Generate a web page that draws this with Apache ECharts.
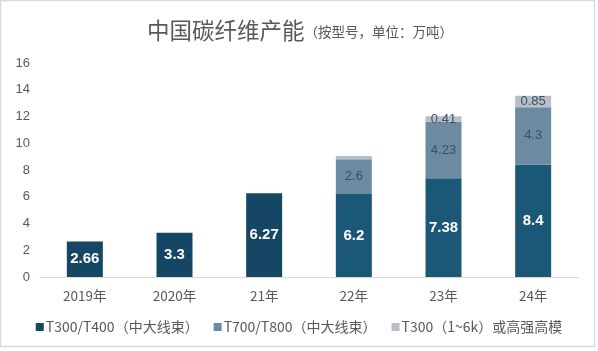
<!DOCTYPE html>
<html>
<head>
<meta charset="utf-8">
<script src="https://cdn.jsdelivr.net/npm/echarts@6/dist/echarts.min.js"></script>
<style>
  html, body { margin: 0; padding: 0; background: #fff; }
  #chart { width: 598px; height: 351px; }
</style>
</head>
<body>
<div id="chart"></div>
<script>
var years = ['2019年', '2020年', '21年', '22年', '23年', '24年']
var seriesNames = ['T300/T400（中大线束）', 'T700/T800（中大线束）', 'T300（1~6k）或高强高模']
var t300 = [2.66, 3.3, 6.27, 6.2, 7.38, 8.4]
var t700 = [0, 0, 0, 2.6, 4.23, 4.3]
var highMod = [0, 0, 0, 0.25, 0.41, 0.85]
var yTicks = [0, 2, 4, 6, 8, 10, 12, 14, 16]

var darkNavy = '#154764'
var teal = '#1b5878'
var slate = '#6c8aa2'
var lightGray = '#b6bfc8'
var textGray = '#595959'

var chart = echarts.init(document.getElementById('chart'), null, { renderer: 'canvas' })

// first three years are drawn darker than the later ones
var baseData = t300.map(function (v, i) {
  return { value: v, itemStyle: { color: i < 3 ? darkNavy : teal } }
})

var option = {
  backgroundColor: '#fff',
  animation: false,
  title: {
    text: '{main|中国碳纤维产能}{sub|（按型号，单位：万吨）}',
    left: 142,
    top: 14,
    textStyle: {
      fontWeight: 'normal',
      rich: {
        main: { fontSize: 22.5, color: textGray, fontWeight: 'normal', fontFamily: 'Noto Sans CJK SC' },
        sub: { fontSize: 13.5, color: textGray, fontWeight: 'normal', fontFamily: 'Noto Sans CJK SC', padding: [4, 0, 0, 0] }
      }
    }
  },
  graphic: [{
    type: 'rect',
    shape: { x: 0.5, y: 0.5, width: 594, height: 346 },
    style: { fill: 'none', stroke: '#d9d9d9', lineWidth: 1.5 },
    silent: true
  }],
  legend: {
    data: [
      { name: seriesNames[0], itemStyle: { color: darkNavy } },
      { name: seriesNames[1] },
      { name: seriesNames[2] }
    ],
    bottom: 12,
    left: 'center',
    icon: 'rect',
    itemWidth: 8,
    itemHeight: 8,
    itemGap: 15,
    textStyle: { color: textGray, fontSize: 14, fontFamily: 'Noto Sans CJK SC', padding: [0, 0, 0, -3] }
  },
  grid: { left: 40, right: 20, top: 63, bottom: 74 },
  xAxis: {
    type: 'category',
    data: years,
    axisLine: { lineStyle: { color: '#d9d9d9', width: 1 } },
    axisTick: { show: false },
    axisLabel: { color: textGray, fontSize: 13.5, margin: 12, fontFamily: 'Noto Sans CJK SC' }
  },
  yAxis: {
    type: 'value',
    min: yTicks[0],
    max: yTicks[yTicks.length - 1],
    interval: 2,
    splitLine: { show: false },
    axisLine: { show: false },
    axisTick: { show: false },
    axisLabel: { color: textGray, fontSize: 13, margin: 10, fontFamily: 'Liberation Sans' }
  },
  series: [
    {
      name: seriesNames[0],
      type: 'bar',
      stack: 'cap',
      barWidth: 36,
      data: baseData,
      itemStyle: { color: darkNavy },
      label: {
        show: true,
        position: 'inside',
        color: '#fff',
        fontSize: 15,
        fontWeight: 'bold',
        fontFamily: 'Liberation Sans',
        formatter: function (p) { return p.value }
      }
    },
    {
      name: seriesNames[1],
      type: 'bar',
      stack: 'cap',
      data: t700,
      itemStyle: { color: slate },
      label: {
        show: true,
        position: 'inside',
        color: '#3e4e5e',
        fontSize: 13,
        fontFamily: 'Liberation Sans',
        formatter: function (p) { return p.value > 0 ? p.value : '' }
      }
    },
    {
      name: seriesNames[2],
      type: 'bar',
      stack: 'cap',
      data: highMod,
      itemStyle: { color: lightGray },
      label: {
        show: true,
        position: 'inside',
        color: '#3e4e5e',
        fontSize: 13,
        fontFamily: 'Liberation Sans',
        formatter: function (p) { return p.value >= 0.3 ? p.value : '' }
      }
    }
  ]
}

chart.setOption(option)
</script>
</body>
</html>
